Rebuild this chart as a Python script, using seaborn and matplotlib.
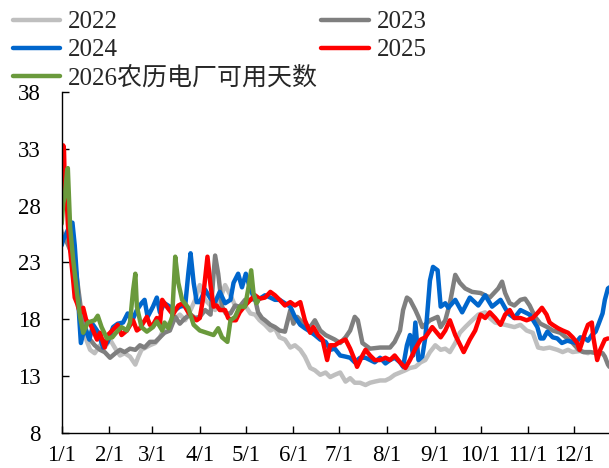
import pandas as pd
import seaborn as sns
import matplotlib.pyplot as plt

# (day of year, available days)
y2022 = [(0, 25.8), (3, 24.9), (5.5, 24.4), (8.5, 23.0), (10.5, 20.6), (13, 17.9), (16, 16.2), (18.5, 15.3),
         (21.5, 15.0), (25, 15.7), (28, 15.5), (31.5, 16.2), (35, 15.4), (38, 14.8), (41, 15.0), (44.5, 14.7),
         (48, 14.0), (50, 14.7), (52, 15.3), (57.5, 15.7), (61, 15.9), (64, 16.4), (67, 17.3), (70.5, 17.7),
         (77, 18.4), (80.5, 17.9), (84, 18.8), (87, 19.7), (90, 21.0), (93.5, 19.7), (97, 19.2), (100, 18.8),
         (103, 19.7), (106.5, 21.0), (110, 20.1), (113, 19.2), (116, 18.8), (119.5, 19.2), (123, 18.5),
         (126, 18.4), (129, 17.9), (132.5, 17.5), (136, 17.0), (139, 17.2), (142, 16.4), (145.5, 16.2),
         (149, 15.5), (152, 15.7), (155.5, 15.3), (158.5, 14.7), (162, 13.7), (165, 13.5), (168.5, 13.1),
         (172, 13.3), (175, 12.9), (178, 13.1), (181.5, 13.3), (185, 12.5), (188, 12.8), (191, 12.4),
         (194.5, 12.4), (198, 12.2), (201, 12.4), (204, 12.5), (207.5, 12.6), (211, 12.6), (214, 12.8),
         (217, 13.1), (220.5, 13.3), (224, 13.5), (227, 13.7), (230.5, 13.8), (234, 14.2), (237, 14.4),
         (240, 15.1), (243.5, 15.7), (247, 15.3), (250, 15.4), (253, 15.1), (256.5, 15.9), (259.5, 16.8),
         (263, 17.3), (266, 17.7), (271.5, 18.4), (276, 18.6), (279, 18.1), (282.5, 17.7), (289, 17.5),
         (295, 17.3), (299, 17.5), (303, 17.0), (307, 16.8), (310.5, 15.5), (314, 15.4), (318, 15.5),
         (323, 15.3), (326.5, 15.1), (330, 15.3), (333, 15.1), (338, 15.2), (343, 15.0)]

y2023 = [(0, 25.6), (3, 24.9), (5.5, 24.1), (8.5, 23.0), (10.5, 21.0), (13, 18.4), (16, 17.0), (18.5, 16.2),
         (21.5, 15.7), (25, 15.3), (28, 15.1), (31.5, 14.6), (35, 15.0), (38, 15.3), (41, 15.1), (44.5, 15.4),
         (48, 15.3), (51, 15.7), (54, 15.5), (57.5, 16.0), (61, 16.0), (64, 16.4), (67, 16.8), (70.5, 17.0),
         (74, 18.2), (77, 17.6), (80.5, 18.1), (84, 18.4), (87, 18.1), (90, 18.2), (93.5, 18.8), (97, 18.4),
         (99, 22.0), (100, 23.6), (102, 22.0), (104.5, 19.1), (107, 18.5), (110, 18.5), (113, 19.2),
         (116, 19.1), (119.5, 19.7), (123, 19.7), (126, 19.8), (128, 18.6), (130.5, 18.1), (132.5, 17.9),
         (136, 17.5), (139, 17.3), (142, 17.0), (145.5, 16.9), (149, 18.8), (151, 17.6), (153.5, 18.2),
         (155.5, 17.9), (158.5, 17.5), (162, 17.3), (165, 17.9), (168.5, 17.0), (172, 16.6), (175, 16.4),
         (178, 16.2), (181.5, 15.9), (185, 16.4), (188, 17.0), (191, 18.2), (193, 17.9), (196, 15.9),
         (201, 15.4), (207.5, 15.5), (214, 15.5), (217, 16.0), (220.5, 17.0), (222.5, 18.8), (225, 19.9),
         (227, 19.7), (230.5, 18.8), (232.5, 18.2), (235, 17.3), (240, 17.9), (245, 18.2), (247, 17.3),
         (250, 17.9), (253, 19.4), (256.5, 21.9), (259.5, 21.2), (263, 20.7), (267.5, 20.4), (273, 20.3),
         (279, 19.9), (284.5, 20.7), (287, 21.3), (289, 20.3), (292, 19.4), (295, 19.2), (299, 19.7),
         (302, 19.8), (305, 19.2), (308.5, 18.2), (312, 17.6), (316.5, 17.3), (320, 17.0), (325, 16.8),
         (329.5, 16.3), (333, 15.9), (337, 15.3), (340, 15.1), (344.5, 15.1), (349, 15.0), (352.5, 15.0),
         (354, 14.7), (356, 14.0), (357, 13.8)]

y2024 = [(0, 24.5), (1, 25.0), (3, 25.5), (5.5, 26.4), (7, 26.5), (8.5, 24.5), (10, 21.5), (11.5, 18.0),
         (12.5, 15.9), (15, 17.3), (18, 16.2), (20.5, 17.5), (23.5, 16.9), (27, 15.5), (30, 16.0), (33.5, 17.3),
         (36.5, 17.6), (40, 17.7), (43, 18.5), (46, 17.9), (49, 18.8), (52, 19.4), (54, 19.7), (56, 18.2),
         (59.5, 19.1), (62, 19.9), (64, 18.6), (67, 19.4), (70.5, 19.1), (74, 18.8), (77, 19.1), (80.5, 19.2),
         (82.5, 22.0), (84, 23.8), (86, 21.2), (88, 19.5), (90, 19.5), (93.5, 20.6), (97, 19.8), (100, 19.5),
         (103, 20.4), (106.5, 19.4), (110, 19.7), (112, 21.2), (115, 22.0), (117.5, 20.8), (120, 22.0),
         (123, 20.6), (126, 19.7), (129, 19.8), (132.5, 20.1), (136, 19.9), (139, 19.7), (142, 19.7),
         (145.5, 19.4), (149, 19.1), (152, 18.2), (155.5, 17.5), (158.5, 17.2), (162, 16.9), (165, 16.6),
         (168.5, 16.2), (172, 16.0), (175, 15.3), (178, 15.4), (181.5, 14.8), (185, 14.7), (188, 14.6),
         (191, 14.2), (194.5, 14.6), (198, 14.6), (201, 14.4), (204, 14.2), (207.5, 14.6), (211, 14.1),
         (214, 14.4), (217, 14.6), (220.5, 14.2), (222.5, 13.8), (225, 15.7), (227, 16.6), (229, 14.8),
         (230.5, 17.7), (232.5, 14.4), (235, 14.7), (237, 16.4), (240, 21.4), (242, 22.6), (245, 22.3),
         (247, 19.1), (250, 19.4), (252, 19.0), (256.5, 19.7), (261, 18.6), (266, 19.9), (271.5, 19.2),
         (276, 20.1), (280.5, 19.1), (286, 19.7), (291, 18.5), (295, 18.1), (299, 18.8), (305, 18.4),
         (310, 17.3), (312, 16.3), (314, 16.3), (316.5, 16.9), (320, 16.4), (323, 16.3), (326, 15.9),
         (329.5, 16.1), (332.5, 16.0), (335, 15.9), (338, 16.4), (341, 16.3), (343, 16.1), (345.5, 16.6),
         (348, 16.9), (350, 17.6), (352.5, 18.5), (354, 19.7), (356, 20.7), (357, 20.8)]

y2025 = [(0, 27.8), (1, 33.3), (1.5, 32.9), (2, 30.0), (3.5, 27.9), (4, 26.4), (5.5, 24.1), (7.5, 21.4),
         (8.5, 19.9), (10, 19.4), (12, 18.5), (14, 19.0), (16, 17.9), (18.5, 17.6), (20.5, 17.0), (23, 16.2),
         (25, 16.8), (28, 15.5), (30, 16.6), (33, 17.0), (36.5, 17.5), (39, 16.6), (42.5, 17.0), (46.5, 17.9),
         (49, 17.0), (51, 17.2), (55.5, 18.2), (57.5, 17.5), (59.5, 17.5), (62, 18.1), (64, 17.5), (65.5, 19.7),
         (69, 19.0), (72.5, 18.4), (76, 19.2), (79, 19.4), (82.5, 18.6), (85, 18.2), (88, 17.9), (90, 18.1),
         (92, 19.7), (95, 23.5), (97, 21.0), (99, 19.1), (101, 19.2), (103, 18.8), (106.5, 18.8), (108.5, 18.1),
         (111, 17.9), (113.5, 17.9), (116, 18.6), (119.5, 19.2), (123, 19.7), (126, 20.1), (129, 19.8),
         (132.5, 19.9), (136, 20.4), (139, 20.1), (142, 19.7), (145.5, 19.2), (149, 19.5), (152, 19.2),
         (155.5, 19.5), (158.5, 17.9), (162, 16.8), (164, 17.3), (167, 16.6), (170, 16.2), (173, 14.4),
         (175, 15.7), (178, 15.7), (181.5, 16.0), (185, 16.2), (188, 15.4), (191, 14.4), (192.5, 13.8),
         (196, 14.8), (198, 15.3), (201, 14.8), (204, 14.4), (207.5, 14.4), (211, 14.6), (214, 14.4),
         (217, 14.8), (220.5, 14.2), (224, 13.7), (227, 14.4), (230.5, 15.4), (234, 16.2), (237, 16.4),
         (241.5, 17.3), (247, 16.4), (250, 17.0), (253, 17.9), (256.5, 16.6), (262, 15.1), (266, 16.2),
         (269.5, 17.0), (273, 18.4), (276, 18.1), (279, 18.6), (282.5, 18.1), (286, 17.5), (289, 18.4),
         (292, 18.8), (295, 18.1), (299, 18.1), (303, 17.9), (307, 18.1), (310.5, 18.6), (313, 19.0),
         (316, 18.4), (318, 17.7), (320, 17.5), (323.5, 17.2), (326.5, 17.0), (330, 16.8), (333, 16.4),
         (336, 15.9), (337.5, 15.3), (339, 15.9), (341, 16.8), (343, 17.5), (345.5, 17.7), (346.5, 16.4),
         (349, 14.4), (351, 15.3), (354, 16.2), (356, 16.3)]

y2026 = [(0, 26.4), (1, 28.2), (2, 28.8), (3.5, 31.0), (4, 31.3), (5.5, 26.1), (7.5, 23.2), (10, 20.3),
         (12, 18.2), (14, 16.8), (17, 17.7), (21.5, 17.9), (23.5, 18.3), (26, 17.3), (29.5, 16.3), (33, 16.4),
         (36, 16.9), (39, 17.3), (42.5, 17.0), (44.5, 17.7), (46.5, 20.5), (48, 22.0), (49, 19.1), (52, 17.3),
         (55.5, 16.9), (59.5, 17.3), (62, 17.8), (65.5, 17.0), (67, 17.7), (69.5, 17.2), (72, 18.2), (74, 23.5),
         (76, 21.2), (78.5, 19.7), (82.5, 19.0), (86, 17.5), (90, 17.0), (99, 16.6), (102, 17.2), (104.5, 16.4),
         (108, 16.0), (110, 17.9), (113, 18.2), (116, 19.1), (119.5, 19.1), (121.5, 20.6), (123.5, 22.3),
         (125, 20.3), (127, 19.4), (128, 19.6)]

series_names = ['2022', '2023', '2024', '2025', '2026农历电厂可用天数']
series_colors = ['#BFBFBF', '#7F7F7F', '#0066CC', '#FF0000', '#6A9A3C']
month_starts = [0, 31, 59, 90, 120, 151, 181, 212, 243, 273, 304, 334]
month_labels = ['1/1', '2/1', '3/1', '4/1', '5/1', '6/1', '7/1', '8/1', '9/1', '10/1', '11/1', '12/1']

rows = []
for name, pts in zip(series_names, [y2022, y2023, y2024, y2025, y2026]):
    for d, v in pts:
        rows.append((name, d, v))
df = pd.DataFrame(rows, columns=['series', 'day', 'value'])

sns.set_style('ticks')
plt.rcParams['font.family'] = ['Liberation Serif', 'Noto Sans CJK SC']

fig = plt.figure(figsize=(6.09, 4.68), dpi=100)
ax = fig.add_axes([0.1013, 0.0754, 0.8987, 0.728])
sns.lineplot(data=df, x='day', y='value', hue='series', hue_order=series_names,
             palette=series_colors, linewidth=3.2, estimator=None, ax=ax)

ax.set_xlim(0, 356.7)
ax.set_ylim(8, 38)
ax.set_xticks(month_starts, month_labels)
ax.set_yticks(range(8, 39, 5))
ax.set_xlabel('')
ax.set_ylabel('')
ax.tick_params(direction='in', length=5, width=1, labelsize=16.5, colors='black')
ax.tick_params(axis='x', pad=9)
ax.tick_params(axis='y', pad=15)
sns.despine(ax=ax)
for s in ['left', 'bottom']:
    ax.spines[s].set_color('black')
    ax.spines[s].set_linewidth(1)

# legend in two columns, read row-wise
handles, labels = ax.get_legend_handles_labels()
ax.get_legend().remove()
order = [0, 2, 4, 1, 3]
fig.legend([handles[i] for i in order], [labels[i] for i in order],
           loc='upper left', bbox_to_anchor=(0.021, 0.977), ncol=2, frameon=False,
           fontsize=18, handlelength=1.9, handletextpad=0.32, columnspacing=0.12,
           labelspacing=0.22, borderpad=0, borderaxespad=0)

fig.savefig('out.png', dpi=100)
